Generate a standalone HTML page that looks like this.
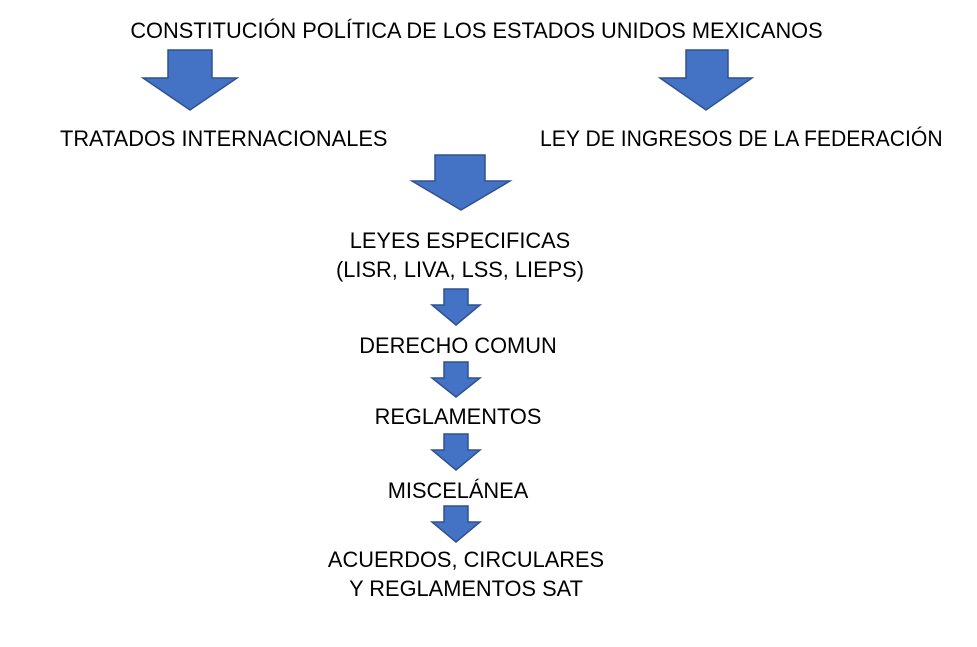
<!DOCTYPE html>
<html><head><meta charset="utf-8"><style>
body{margin:0;width:977px;height:647px;background:#fff;position:relative;overflow:hidden;font-family:"Liberation Sans",Calibri,sans-serif;font-size:21.8px;color:#000}
.t{position:absolute;white-space:nowrap;text-align:center;line-height:29px}
svg{position:absolute;left:0;top:0}
</style></head><body>
<svg width="977" height="647">
<g fill="#4472C4" stroke="#2F528F" stroke-width="1.5">
<polygon points="168,50 212,50 212,78 237,78 190,110 143,78 168,78"/>
<polygon points="686,50 728,50 728,78 752,78 706,110 660,78 686,78"/>
<polygon points="435,155 485,155 485,181 510,181 461,210 412,181 435,181"/>
<polygon points="444,289 468,289 468,305 480,305 456,325 432,305 444,305"/>
<polygon points="444,362 468,362 468,378 480,378 456,397 432,378 444,378"/>
<polygon points="444,434 468,434 468,450 480,450 456,470 432,450 444,450"/>
<polygon points="444,506 468,506 468,522 480,522 456,542 432,522 444,522"/>
</g></svg>
<div class="t" style="left:0;width:953px;top:16px">CONSTITUCIÓN POLÍTICA DE LOS ESTADOS UNIDOS MEXICANOS</div>
<div class="t" style="left:60px;top:124px">TRATADOS INTERNACIONALES</div>
<div class="t" style="left:540px;top:124px;transform:scaleX(0.97);transform-origin:left">LEY DE INGRESOS DE LA FEDERACIÓN</div>
<div class="t" style="left:0;width:920px;top:226px">LEYES ESPECIFICAS<br>(LISR, LIVA, LSS, LIEPS)</div>
<div class="t" style="left:0;width:916px;top:331px">DERECHO COMUN</div>
<div class="t" style="left:0;width:916px;top:402px">REGLAMENTOS</div>
<div class="t" style="left:0;width:916px;top:476px">MISCELÁNEA</div>
<div class="t" style="left:0;width:932px;top:545px">ACUERDOS, CIRCULARES<br>Y REGLAMENTOS SAT</div>
</body></html>
